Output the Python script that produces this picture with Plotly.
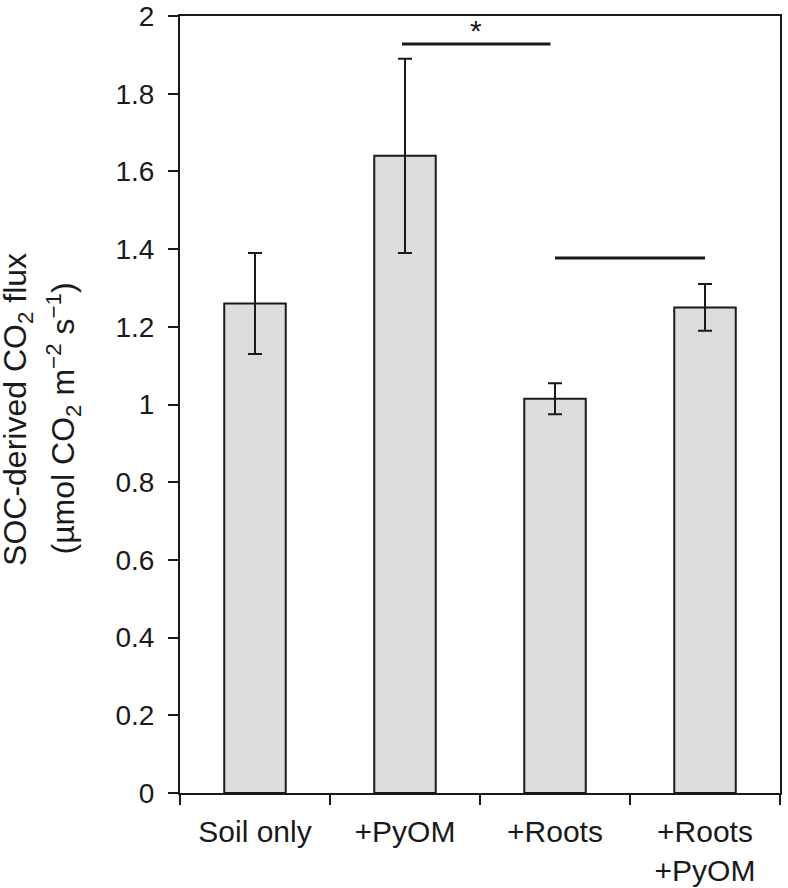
import plotly.graph_objects as go

categories = ["Soil only", "+PyOM", "+Roots", "+Roots<br>+PyOM"]
means = [1.26, 1.64, 1.015, 1.25]
errors = [0.13, 0.25, 0.04, 0.06]
y_ticks = [0, 0.2, 0.4, 0.6, 0.8, 1, 1.2, 1.4, 1.6, 1.8, 2]
y_tick_labels = ["0", "0.2", "0.4", "0.6", "0.8", "1", "1.2", "1.4", "1.6", "1.8", "2"]
y_title_lines = ["SOC-derived CO<sub>2</sub> flux",
                 "(µmol CO<sub>2</sub> m<sup>−2</sup> s<sup>−1</sup>)"]
# significance brackets: (x start, x end, y level, label)
sig_lines = [(0.98, 1.97, 1.928, "*"), (2.0, 3.0, 1.377, "")]

FONT = "Liberation Sans, Arial, sans-serif"
INK = "#1a1a1a"

fig = go.Figure()
fig.add_trace(go.Bar(
    x=list(range(len(categories))),
    y=means,
    width=0.41,
    marker=dict(color="#dcdcdd", line=dict(color=INK, width=2)),
    error_y=dict(type="data", array=errors, visible=True, color=INK,
                 thickness=2, width=7),
    showlegend=False,
    hoverinfo="skip",
))

for x0, x1, yv, lab in sig_lines:
    fig.add_shape(type="line", x0=x0, x1=x1, y0=yv, y1=yv, xref="x", yref="y",
                  line=dict(color=INK, width=3))
    if lab:
        fig.add_annotation(x=(x0 + x1) / 2, y=yv, text=lab, showarrow=False,
                           yanchor="bottom", yshift=-5,
                           font=dict(family=FONT, size=30, color=INK))

# two-line y-axis title (positions in paper fraction left of the plot)
for xp, yp, line in zip([-0.27, -0.195], [0.493, 0.482], y_title_lines):
    fig.add_annotation(x=xp, y=yp, xref="paper", yref="paper", text=line,
                       textangle=-90, showarrow=False, xanchor="center", yanchor="middle",
                       font=dict(family=FONT, size=32, color=INK))

fig.update_layout(
    width=788, height=888,
    margin=dict(l=180, r=8, t=16, b=95, autoexpand=False),
    paper_bgcolor="white", plot_bgcolor="white",
    font=dict(family=FONT, size=28, color=INK),
    bargap=0.6,
)
fig.update_xaxes(
    range=[-0.5, 3.5], automargin=False,
    tickmode="array", tickvals=list(range(len(categories))), ticktext=categories,
    showline=True, linecolor=INK, linewidth=2, mirror=True,
    ticks="", showgrid=False, zeroline=False, ticklabelstandoff=11,
    tickfont=dict(family=FONT, size=30, color=INK),
    minor=dict(tickmode="array", tickvals=[-0.5, 0.5, 1.5, 2.5, 3.5],
               ticks="outside", ticklen=10, tickwidth=2,
               tickcolor=INK, showgrid=False),
)
fig.update_yaxes(
    range=[0, 2], automargin=False,
    tickmode="array", tickvals=y_ticks, ticktext=y_tick_labels,
    showline=True, linecolor=INK, linewidth=2, mirror=True,
    ticks="outside", ticklen=10, tickwidth=2, tickcolor=INK,
    showgrid=False, zeroline=False, ticklabelstandoff=8,
    tickfont=dict(family=FONT, size=28, color=INK),
)

fig.write_html("out.html", config={"displayModeBar": False},
               post_script="document.body.style.margin='0px';")
